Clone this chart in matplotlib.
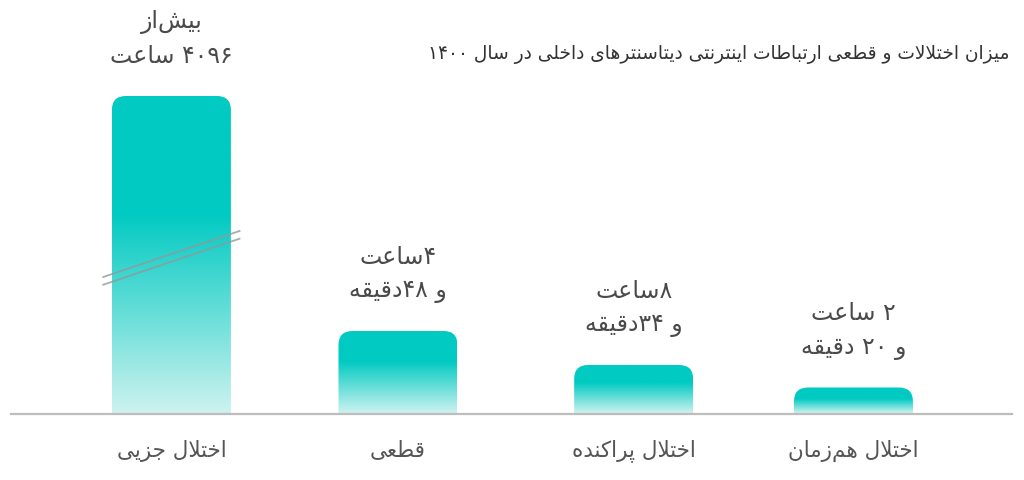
import matplotlib
matplotlib.use("Agg")
import matplotlib.pyplot as plt
import numpy as np
from matplotlib.patches import FancyBboxPatch
from matplotlib import font_manager
from matplotlib.ft2font import FT2Font
from matplotlib.colors import to_rgb

# ---------------- data ----------------
title = "میزان اختلالات و قطعی ارتباطات اینترنتی دیتاسنترهای داخلی در سال ۱۴۰۰"
categories = ["اختلال جزیی", "قطعی", "اختلال پراکنده", "اختلال هم‌زمان"]
duration_minutes = [4096 * 60, 4 * 60 + 48, 8 * 60 + 34, 2 * 60 + 20]
bar_heights = [317.5, 82.5, 48.5, 26.0]          # drawn (not to scale) heights
label_line1 = ["بیش‌از", "۴ساعت", "۸ساعت", "۲ ساعت"]
label_line2 = ["۴۰۹۶ ساعت", "و ۴۸دقیقه", "و ۳۴دقیقه", "و ۲۰ دقیقه"]

# ---------------- layout ----------------
x_pos = [0, 1, 2.04, 3.01]
FONT = "DejaVu Sans"

# ---------------- minimal Persian shaping + bidi ----------------
FORMS = {
    'ا': (0xFE8D, 0xFE8E, None, None),
    'آ': (0xFE81, 0xFE82, None, None),
    'ب': (0xFE8F, 0xFE90, 0xFE91, 0xFE92),
    'پ': (0xFB56, 0xFB57, 0xFB58, 0xFB59),
    'ت': (0xFE95, 0xFE96, 0xFE97, 0xFE98),
    'ج': (0xFE9D, 0xFE9E, 0xFE9F, 0xFEA0),
    'خ': (0xFEA5, 0xFEA6, 0xFEA7, 0xFEA8),
    'د': (0xFEA9, 0xFEAA, None, None),
    'ر': (0xFEAD, 0xFEAE, None, None),
    'ز': (0xFEAF, 0xFEB0, None, None),
    'س': (0xFEB1, 0xFEB2, 0xFEB3, 0xFEB4),
    'ش': (0xFEB5, 0xFEB6, 0xFEB7, 0xFEB8),
    'ط': (0xFEC1, 0xFEC2, 0xFEC3, 0xFEC4),
    'ع': (0xFEC9, 0xFECA, 0xFECB, 0xFECC),
    'ق': (0xFED5, 0xFED6, 0xFED7, 0xFED8),
    'ک': (0xFB8E, 0xFB8F, 0xFB90, 0xFB91),
    'ل': (0xFEDD, 0xFEDE, 0xFEDF, 0xFEE0),
    'م': (0xFEE1, 0xFEE2, 0xFEE3, 0xFEE4),
    'ن': (0xFEE5, 0xFEE6, 0xFEE7, 0xFEE8),
    'ه': (0xFEE9, 0xFEEA, 0xFEEB, 0xFEEC),
    'و': (0xFEED, 0xFEEE, None, None),
    'ی': (0xFBFC, 0xFBFD, 0xFBFE, 0xFBFF),
}
try:
    _cmap = FT2Font(font_manager.findfont(FONT)).get_charmap()
except Exception:
    _cmap = None


def _ch(code, base):
    if code is None:
        return base
    if _cmap is not None and code not in _cmap:
        return base
    return chr(code)


def _dual(c):
    return c in FORMS and FORMS[c][2] is not None


def shape(text):
    out = []
    i = 0
    n = len(text)
    while i < n:
        c = text[i]
        if c not in FORMS:
            if c != '\u200c':
                out.append(c)
            i += 1
            continue
        prev = text[i - 1] if i > 0 else ''
        joins_prev = _dual(prev)
        nxt = text[i + 1] if i + 1 < n else ''
        if c == 'ل' and nxt == 'ا':
            out.append(_ch(0xFEFC if joins_prev else 0xFEFB, 'لا'))
            i += 2
            continue
        joins_next = _dual(c) and nxt in FORMS
        iso, fin, ini, med = FORMS[c]
        if joins_prev and joins_next:
            code = med
        elif joins_prev:
            code = fin
        elif joins_next:
            code = ini
        else:
            code = iso
        out.append(_ch(code, c))
        i += 1
    return ''.join(out)


def fa(text):
    s = shape(text)
    runs = []
    for c in s:
        d = c.isdigit()
        if runs and runs[-1][0] == d:
            runs[-1][1].append(c)
        else:
            runs.append((d, [c]))
    vis = []
    for d, chars in reversed(runs):
        vis.append(''.join(chars) if d else ''.join(reversed(chars)))
    return ''.join(vis)


# ---------------- figure ----------------
W, H = 1024, 480
fig = plt.figure(figsize=(W / 100, H / 100), dpi=100)
base_px = 413.5
ax = fig.add_axes([0, (H - base_px) / H, 1, base_px / H])
unit_px = 226.6
left_px = 171.4
ax.axis('off')

bar_w = 119 / unit_px
r_px = 14
teal = np.array(to_rgb('#00cac2'))
light = np.array(to_rgb('#cdf2ef'))

for x, h in zip(x_pos, bar_heights):
    patch = FancyBboxPatch((x - bar_w / 2, -30), bar_w, h + 30,
                           boxstyle=f"round,pad=0,rounding_size={r_px / unit_px}",
                           mutation_aspect=unit_px, facecolor='none',
                           edgecolor='none')
    ax.add_patch(patch)
    t = np.linspace(0, 1, 256)  # 0 bottom -> 1 top
    solid = 0.63 if h > 40 else 0.55
    f = np.clip(t / solid, 0, 1)
    cols = light[None, :] * (1 - f[:, None]) + teal[None, :] * f[:, None]
    img = cols[:, None, :]
    im = ax.imshow(img, extent=[x - bar_w / 2, x + bar_w / 2, 0, h],
                   origin='lower', aspect='auto', interpolation='bilinear',
                   zorder=2)
    im.set_clip_path(patch)

ax.set_xlim(-left_px / unit_px, (W - left_px) / unit_px)
ax.set_ylim(0, base_px)

# baseline
ax.axhline(0, xmin=11 / W, xmax=1012 / W, color='#bdbdbd', lw=1.6,
           clip_on=False, zorder=3)

# break marks on the first (truncated) bar
bx = x_pos[0]
half = 138 / unit_px / 2
for y0 in (136.2, 128.5):
    ax.plot([bx - half, bx + half], [y0, y0 + 46.6], color='#8f9a9a',
            lw=1.3, alpha=0.8, solid_capstyle='butt', zorder=4, clip_on=False)

# value labels
pt = 72 / 100
for x, h, l1, l2 in zip(x_pos, bar_heights, label_line1, label_line2):
    ax.annotate(fa(l2), xy=(x, h), xytext=(0, 40 * pt), textcoords='offset points',
                ha='center', va='center', fontsize=17, color='#4a4a4a',
                family=FONT, annotation_clip=False)
    ax.annotate(fa(l1), xy=(x, h), xytext=(0, 74 * pt), textcoords='offset points',
                ha='center', va='center', fontsize=17, color='#4a4a4a',
                family=FONT, annotation_clip=False)

# category labels
for x, c in zip(x_pos, categories):
    ax.annotate(fa(c), xy=(x, 0), xytext=(0, -37 * pt), textcoords='offset points',
                ha='center', va='center', fontsize=15.5, color='#555555',
                family=FONT, annotation_clip=False)

fig.text(1010 / W, 1 - 55 / H, fa(title), ha='right', va='center',
         fontsize=13.4, color='#333333', family=FONT)

fig.savefig('out.png', dpi=100, facecolor='white')
